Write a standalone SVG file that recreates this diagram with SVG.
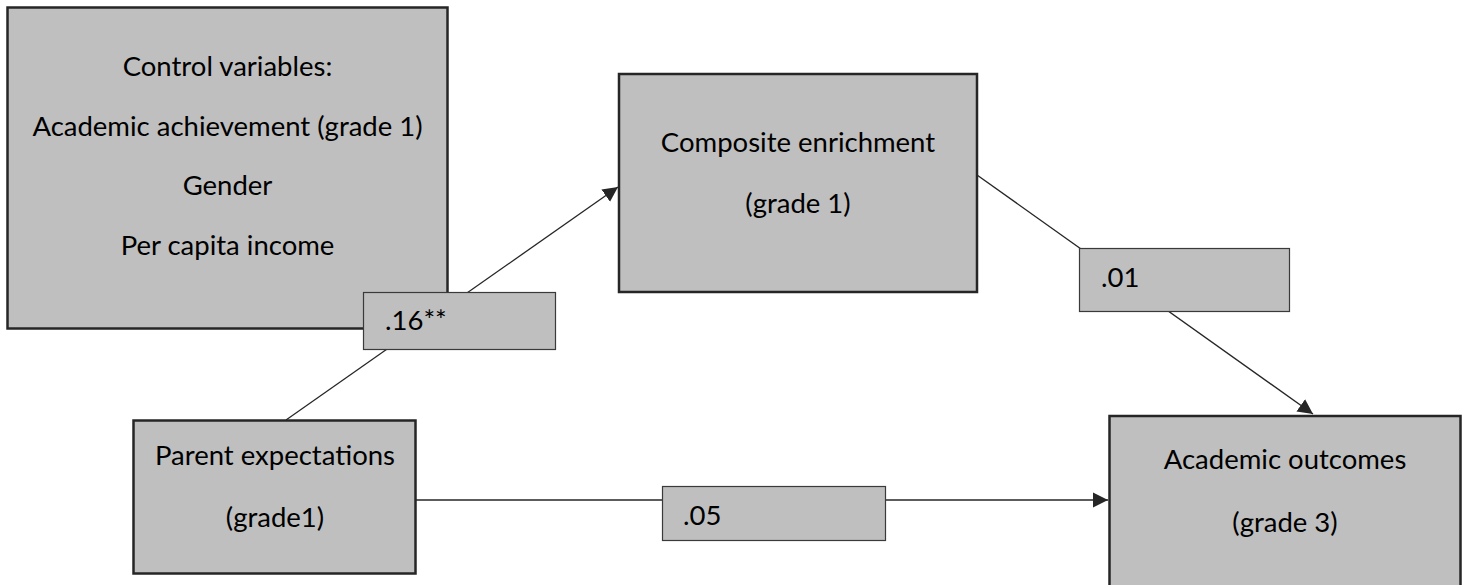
<svg xmlns="http://www.w3.org/2000/svg" width="1471" height="585" viewBox="0 0 1471 585">
  <style>
    .node { fill: #bfbfbf; stroke: #262626; stroke-width: 2.5; }
    .lbl { fill: #bfbfbf; stroke: #3a3a3a; stroke-width: 1.2; }
    .t { font-family: Lato, "Liberation Sans", sans-serif; font-size: 27.5px; fill: #000; }
    .c { text-anchor: middle; }
    .edge { stroke: #262626; stroke-width: 1.3; fill: none; }
  </style>
  <defs>
    <marker id="arr" markerUnits="userSpaceOnUse" markerWidth="16" markerHeight="16" viewBox="0 0 16 16" refX="15" refY="8" orient="auto">
      <path d="M0,0.5 L15,8 L0,15.5 Z" fill="#262626"/>
    </marker>
  </defs>
  <rect width="1471" height="585" fill="#ffffff"/>

  <g id="connectors">
    <line class="edge" x1="286" y1="420" x2="618" y2="187" marker-end="url(#arr)"/>
    <line class="edge" x1="977" y1="175" x2="1313" y2="414" marker-end="url(#arr)"/>
    <line class="edge" x1="416" y1="500" x2="1108" y2="500" marker-end="url(#arr)"/>
  </g>

  <g id="control">
    <rect class="node" x="7.5" y="7.5" width="440" height="321"/>
    <text class="t c" x="227.5" y="76">Control variables:</text>
    <text class="t c" x="227.5" y="136">Academic achievement (grade 1)</text>
    <text class="t c" x="227.5" y="195">Gender</text>
    <text class="t c" x="227.5" y="255">Per capita income</text>
  </g>

  <g id="composite">
    <rect class="node" x="619" y="74" width="358" height="218"/>
    <text class="t c" x="798" y="152">Composite enrichment</text>
    <text class="t c" x="798" y="213">(grade 1)</text>
  </g>

  <g id="parent">
    <rect class="node" x="133.5" y="420.5" width="282" height="153"/>
    <text class="t c" x="275" y="465">Parent expectations</text>
    <text class="t c" x="275" y="527">(grade1)</text>
  </g>

  <g id="outcomes">
    <rect class="node" x="1109.5" y="416" width="351" height="180"/>
    <text class="t c" x="1285" y="469">Academic outcomes</text>
    <text class="t c" x="1285" y="532">(grade 3)</text>
  </g>

  <g id="label-16">
    <rect class="lbl" x="363.5" y="292.5" width="192" height="57"/>
    <text class="t" x="385" y="330">.16**</text>
  </g>

  <g id="label-01">
    <rect class="lbl" x="1079.5" y="248.5" width="210" height="63"/>
    <text class="t" x="1101" y="287">.01</text>
  </g>

  <g id="label-05">
    <rect class="lbl" x="662.5" y="486.5" width="223" height="54"/>
    <text class="t" x="683" y="525">.05</text>
  </g>
</svg>
